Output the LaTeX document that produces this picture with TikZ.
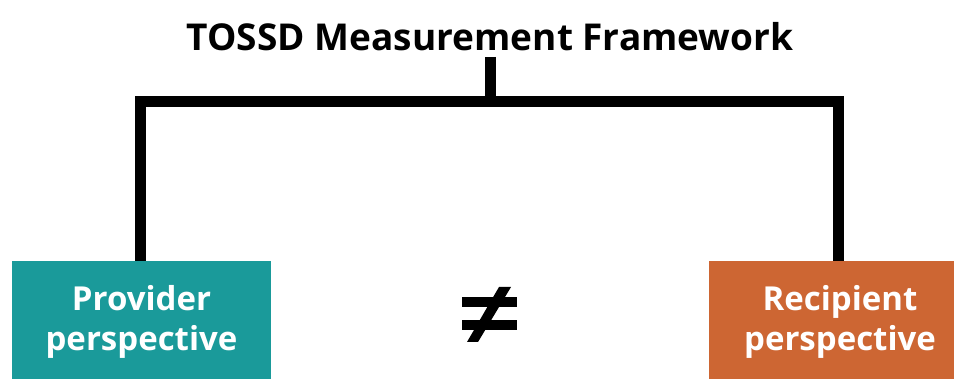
\documentclass[tikz,border=0pt]{standalone}
\usepackage{fontspec}
\setmainfont{Open Sans}
\definecolor{tealbox}{HTML}{1A9A9A}
\definecolor{orangebox}{HTML}{CD6633}
\begin{document}
\begin{tikzpicture}[x=1pt,y=-1pt,
  bracket/.style={line width=11pt,line cap=butt,line join=miter},
  persp/.style={draw=none,text=white,font=\fontsize{33}{40}\selectfont\bfseries,align=center,inner sep=0pt},
  title/.style={font=\fontsize{37}{40}\selectfont\bfseries,inner sep=0pt}]
\useasboundingbox (0,0) rectangle (954,379);
\fill[tealbox] (12,261) rectangle (271,379);
\fill[orangebox] (709,261) rectangle (954,379);
\node[persp] (prov) at (141.5,322) {Provider\\perspective};
\node[persp] (recp) at (840,322) {Recipient\\perspective};
\node[title] (title) at (490,37) {TOSSD Measurement Framework};
\coordinate (top) at (490,57);
\coordinate (mid) at (490,102);
\coordinate (lt) at (140,261);
\coordinate (rt) at (838,261);
\draw[bracket] (top) -- (mid);
\draw[bracket] (lt) |- (mid) -| (rt);
% not-equal sign
\coordinate (neq) at (489.5,315);
\fill ([shift={(-27.5,-18)}]neq) rectangle ([shift={(27.5,-8)}]neq);
\fill ([shift={(-27.5,5)}]neq) rectangle ([shift={(27.5,15)}]neq);
\fill ([shift={(9.5,-28)}]neq) -- ([shift={(21.5,-28)}]neq) -- ([shift={(-11.5,27)}]neq) -- ([shift={(-22.5,27)}]neq) -- cycle;
\end{tikzpicture}
\end{document}
